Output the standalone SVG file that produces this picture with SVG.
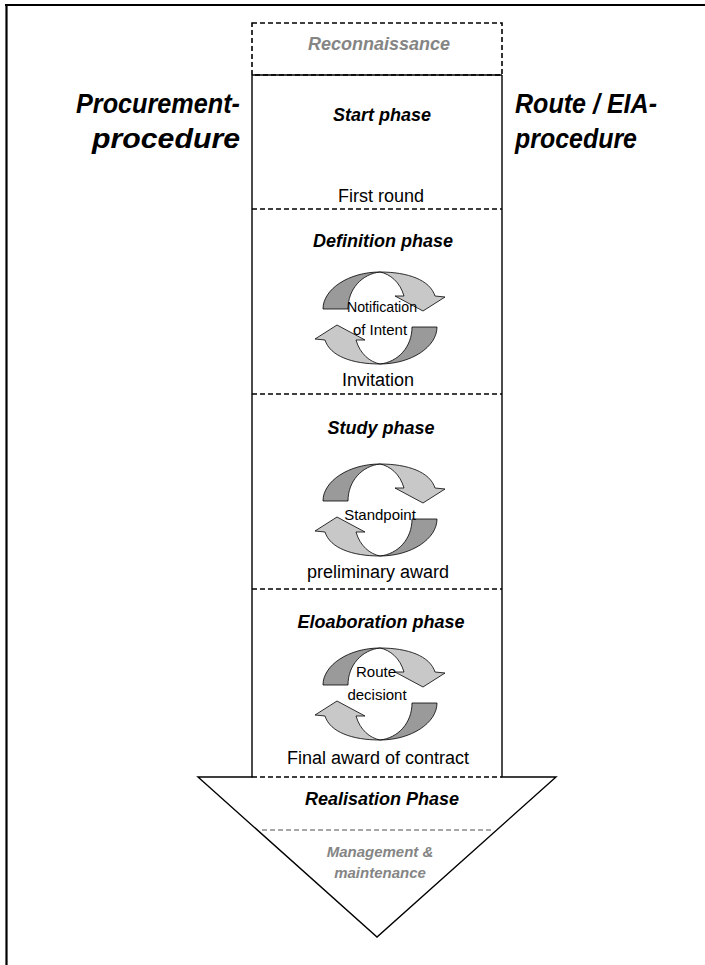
<svg xmlns="http://www.w3.org/2000/svg" width="705" height="965" viewBox="0 0 705 965">
  <style>
    .frame { stroke: #000; stroke-width: 2.2; fill: none; }
    .edge { stroke: #000; stroke-width: 1.4; fill: none; }
    .dash { stroke: #000; stroke-width: 1.6; stroke-dasharray: 5 3; fill: none; }
    .dash-grey { stroke: #8c8c8c; stroke-width: 1.6; stroke-dasharray: 5 3; fill: none; }
    .side { font-family: "Liberation Sans", Arial, sans-serif; font-weight: bold; font-style: italic; font-size: 27px; fill: #000; }
    .phase { font-family: "Liberation Sans", Arial, sans-serif; font-weight: bold; font-style: italic; font-size: 18px; fill: #000; text-anchor: middle; }
    .muted { fill: #858585; }
    .mile { font-family: "Liberation Sans", Arial, sans-serif; font-size: 18px; fill: #000; text-anchor: middle; }
    .inner { font-family: "Liberation Sans", Arial, sans-serif; font-size: 15px; fill: #000; text-anchor: middle; }
    .dark { fill: #9a9a9a; stroke: #000; stroke-width: 0.8; stroke-linejoin: round; }
    .light { fill: #c8c8c8; stroke: #000; stroke-width: 0.8; stroke-linejoin: round; }
  </style>
  <defs>
    <!-- pair of twisted ribbon arrows turning clockwise around a centre -->
    <g id="cycle">
      <g id="half">
        <path class="dark" d="M -57,-9 C -57,-29 -31,-46 0,-46 C -18,-44 -32,-29 -32,-9 Z"/>
        <path class="light" d="M 0,-46 C 28,-46 50,-38 55,-22 L 65,-21 L 43,-7 L 15,-22 L 24,-22 C 20,-36 10,-44 0,-46 Z"/>
      </g>
      <use href="#half" transform="rotate(180)"/>
    </g>
  </defs>

  <rect width="705" height="965" fill="#fff"/>

  <!-- page frame (top and left rules) -->
  <path class="frame" d="M 5,5 H 705 M 6.5,4 V 965"/>

  <!-- big phase arrow -->
  <g id="phase-arrow">
    <rect class="dash" x="252" y="23" width="250" height="52"/>
    <path class="edge" d="M 252,75 H 502"/>
    <path class="edge" d="M 252,75 V 777 H 198 L 377,937 L 556,777 H 502 V 75"/>
  </g>

  <!-- phase separators -->
  <g id="separators">
    <path class="dash" d="M 252,209 H 502"/>
    <path class="dash" d="M 252,394 H 502"/>
    <path class="dash" d="M 252,589 H 502"/>
    <path class="dash" d="M 252,777 H 502"/>
    <path class="dash-grey" d="M 262,830 H 492"/>
  </g>

  <!-- side captions -->
  <g id="procurement">
    <text class="side" x="240" y="113" text-anchor="end" textLength="164" lengthAdjust="spacingAndGlyphs">Procurement-</text>
    <text class="side" x="240" y="148" text-anchor="end" textLength="148" lengthAdjust="spacingAndGlyphs">procedure</text>
  </g>
  <g id="route-eia">
    <text class="side" x="515" y="113" textLength="142" lengthAdjust="spacingAndGlyphs">Route / EIA-</text>
    <text class="side" x="515" y="148" textLength="122" lengthAdjust="spacingAndGlyphs">procedure</text>
  </g>

  <g id="reconnaissance">
    <text class="phase muted" x="379" y="50">Reconnaissance</text>
  </g>

  <g id="start-phase">
    <text class="phase" x="382" y="121">Start phase</text>
    <text class="mile" x="381" y="202">First round</text>
  </g>

  <g id="definition-phase">
    <text class="phase" x="383" y="247">Definition phase</text>
    <use href="#cycle" x="380" y="318"/>
    <text class="inner" x="382" y="312" textLength="70" lengthAdjust="spacingAndGlyphs">Notification</text>
    <text class="inner" x="380" y="335">of Intent</text>
    <text class="mile" x="378" y="386">Invitation</text>
  </g>

  <g id="study-phase">
    <text class="phase" x="381" y="434">Study phase</text>
    <use href="#cycle" x="380" y="510"/>
    <text class="inner" x="380" y="520">Standpoint</text>
    <text class="mile" x="378" y="578">preliminary award</text>
  </g>

  <g id="elaboration-phase">
    <text class="phase" x="381" y="628">Eloaboration phase</text>
    <use href="#cycle" x="380" y="694"/>
    <text class="inner" x="376" y="677">Route</text>
    <text class="inner" x="377" y="700">decisiont</text>
    <text class="mile" x="378" y="764">Final award of contract</text>
  </g>

  <g id="realisation-phase">
    <text class="phase" x="382" y="805">Realisation Phase</text>
  </g>

  <g id="management">
    <text class="phase muted" x="380" y="857" style="font-size:15px">Management &amp;</text>
    <text class="phase muted" x="380" y="878" style="font-size:15px">maintenance</text>
  </g>
</svg>
